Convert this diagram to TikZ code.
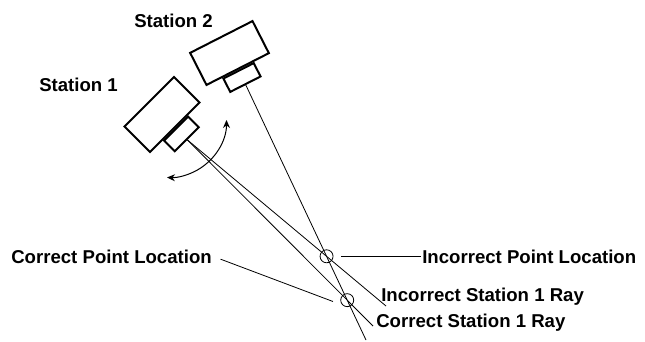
\documentclass[tikz,border=0pt]{standalone}
\usepackage{fontspec}
\setmainfont{Liberation Sans}
\usetikzlibrary{arrows.meta,calc}

\begin{document}
\begin{tikzpicture}[x=1pt,y=-1pt,semithick,>={Stealth[length=8pt,width=7pt]},
    lbl/.style={font=\fontsize{18.6}{22}\selectfont\bfseries,inner sep=1pt,anchor=base west},
    body/.style={draw,line width=2pt,minimum width=70pt,minimum height=36pt,inner sep=0pt},
    lens/.style={draw,line width=2pt,minimum width=34pt,minimum height=15pt,inner sep=0pt,anchor=north},
    ray/.style={line width=.8pt},
    ptcirc/.style={draw,circle,line width=.8pt,minimum size=13pt,inner sep=0pt}]
    \useasboundingbox (0,0) rectangle (645,341);
    \node[body,rotate=45] (body1) at (162,114.5) {};
    \node[lens,rotate=45] (lens1) at (body1.south) {};
    \node[body,rotate=27] (body2) at (229.5,53) {};
    \node[lens,rotate=27] (lens2) at (body2.south) {};
    \node[lbl] (st1) at (38,91) {Station 1};
    \node[lbl] (st2) at (133,27) {Station 2};
    \coordinate (s2end) at (366,340);
    \coordinate (incend) at (386,306);
    \coordinate (corend) at (373,326);
    \draw[ray] (lens1.south) -- (incend);
    \draw[ray] (lens1.south) -- (corend);
    \draw[ray] (lens2.south) -- (s2end);
    \node[ptcirc] (incpt) at (intersection of lens1.south--incend and lens2.south--s2end) {};
    \node[ptcirc] (corpt) at (intersection of lens1.south--corend and lens2.south--s2end) {};
    \node[lbl] (corloc) at (10,263) {Correct Point Location};
    \node[lbl] (incloc) at (421,263) {Incorrect Point Location};
    \node[lbl] (incray) at (380,301) {Incorrect Station 1 Ray};
    \node[lbl] (corray) at (375,327) {Correct Station 1 Ray};
    \draw[ray,shorten <=8pt,shorten >=10pt] (corloc.east) -- (corpt.south west);
    \draw[ray,shorten <=8pt] (incpt.east) -- (incpt.east -| incloc.west);
    \coordinate (pivot) at (169,120);
    \draw[line width=1pt,<->] ($(pivot)+(57.5,0)$) arc[start angle=0,end angle=92,radius=57.5];
\end{tikzpicture}
\end{document}
